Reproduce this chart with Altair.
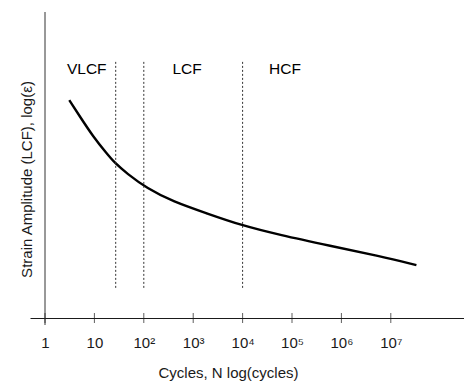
import json
import altair as alt
import pandas as pd

# Curve
cycles = [3.1, 5.1, 9.5, 17.7, 26.1, 45, 115, 395, 1880, 8850, 57000, 5.9e5, 6.0e6, 3.3e7]
strain = [7.12, 6.58, 5.92, 5.38, 5.06, 4.73, 4.24, 3.80, 3.42, 3.04, 2.71, 2.36, 2.02, 1.73]

# Regime boundaries (dotted lines) and labels
boundaries = [27, 100, 10000]
region_names = ["VLCF", "LCF", "HCF"]
region_x = [7, 750, 72000]
region_y = [8.14, 8.14, 8.14]

tick_values = [1, 10, 100, 1e3, 1e4, 1e5, 1e6, 1e7]
tick_labels = ["1", "10", "10²", "10³", "10⁴", "10⁵", "10⁶", "10⁷"]

FONT = "Liberation Sans"
INK = "#1a1a1a"

curve_df = pd.DataFrame({"N": cycles, "S": strain})
bound_df = pd.DataFrame({"N": boundaries})
region_df = pd.DataFrame({"N": region_x, "S": region_y, "name": region_names})
tick_df = pd.DataFrame({"N": tick_values})
one_df = pd.DataFrame({"N": [1]})

label_expr = json.dumps(tick_labels, ensure_ascii=False) + "[round(log(datum.value)/LN10)]"

xscale = alt.Scale(type="log", domain=[10 ** (-15 / 49.4), 10 ** (419 / 49.4)], nice=False)
yscale = alt.Scale(domain=[0, 10], nice=False, zero=False)

line = alt.Chart(curve_df).mark_line(
    interpolate="basis", color="black", strokeWidth=2.4
).encode(
    x=alt.X("N:Q", scale=xscale, axis=alt.Axis(
        values=tick_values, labelExpr=label_expr, ticks=False, grid=False,
        domainColor=INK, domainWidth=1, labelFontSize=15, labelColor=INK,
        labelPadding=17, labelFont=FONT,
        title="Cycles, N log(cycles)", titleX=198, titleY=54,
        titleBaseline="middle", titleAlign="center", titleFontWeight="normal",
        titleFontSize=15, titleColor=INK, titleFont=FONT)),
    y=alt.Y("S:Q", scale=yscale, axis=alt.Axis(
        domain=False, ticks=False, labels=False, grid=False,
        title="Strain Amplitude (LCF), log(ε)", titleX=-4, titleY=167,
        titleAngle=-90, titleBaseline="middle", titleAlign="center",
        titleFontWeight="normal", titleFontSize=15, titleColor=INK, titleFont=FONT)),
)

bounds = alt.Chart(bound_df).mark_rule(
    strokeDash=[2, 2], strokeWidth=1, color="#333333"
).encode(
    x=alt.X("N:Q", scale=xscale),
    y=alt.YDatum(8.37),
    y2=alt.Y2Datum(0.95),
)

yaxis_line = alt.Chart(one_df).mark_rule(color="#333333", strokeWidth=1).encode(
    x=alt.X("N:Q", scale=xscale),
    y=alt.value(0),
    y2=alt.value(313),
)

ticks = alt.Chart(tick_df).mark_tick(color=INK, size=10, thickness=1).encode(
    x=alt.X("N:Q", scale=xscale),
    y=alt.value(306),
)

labels = alt.Chart(region_df).mark_text(
    font=FONT, fontSize=15.5, color="black", baseline="middle", align="center"
).encode(
    x=alt.X("N:Q", scale=xscale),
    y=alt.Y("S:Q", scale=yscale),
    text="name:N",
)

chart = alt.layer(line, bounds, yaxis_line, ticks, labels).properties(
    width=434, height=306,
    autosize=alt.AutoSizeParams(type="none"),
    padding={"left": 30, "top": 12, "right": 0, "bottom": 63},
).configure(
    font=FONT, background="white", view=alt.ViewConfig(stroke=None)
)

chart.save("out.html", embed_options={"renderer": "svg", "actions": False})
